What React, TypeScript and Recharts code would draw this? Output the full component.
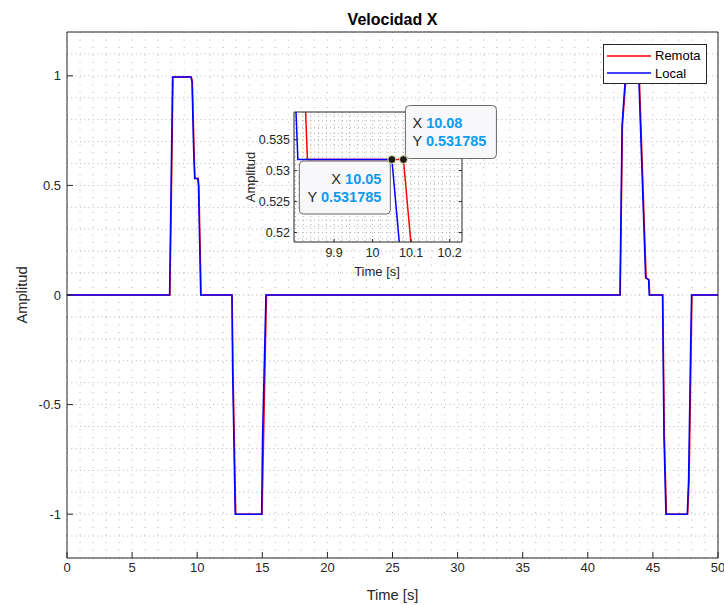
import React from 'react';
import { LineChart, Line, XAxis, YAxis, CartesianGrid, Legend, ReferenceDot } from 'recharts';

const FONT = '"Liberation Sans", Arial, Helvetica, sans-serif';
const AXIS = '#262626';
const GRID = '#b4b4b4';

// Local (blue) samples
const localT = [0, 7.88, 7.99, 8.11, 9.52, 9.6, 9.73, 9.806, 10.05, 10.1, 10.27, 12.67, 12.72, 12.92, 14.95, 15.02, 15.28,
  42.47, 42.63, 42.86, 42.95, 43.85, 43.93, 44.44, 44.67, 44.72, 45.74, 45.85, 46.0, 47.64, 47.74, 47.9, 47.97, 50];
const localV = [0, 0, 0.48, 0.995, 0.995, 0.974, 0.654, 0.531785, 0.531785, 0.497, 0, 0, -0.342, -1, -1, -0.647, 0,
  0, 0.773, 0.97, 0.995, 0.995, 0.97, 0.078, 0.07, 0, 0, -0.647, -1, -1, -0.845, -0.228, 0, 0];

// Remota (red) samples, slightly delayed
const remoteT = [0, 7.9, 8.02, 8.14, 9.55, 9.63, 9.76, 9.8, 9.831, 10.08, 10.13, 10.3, 12.68, 12.75, 12.96, 14.98, 15.1, 15.32,
  42.49, 42.66, 42.9, 42.98, 43.88, 43.97, 44.48, 44.7, 44.76, 45.76, 45.88, 46.04, 47.67, 47.78, 47.94, 48.0, 50];
const remoteV = [0, 0, 0.46, 0.995, 0.995, 0.974, 0.654, 0.58, 0.531785, 0.531785, 0.497, 0, 0, -0.342, -1, -1, -0.647, 0,
  0, 0.773, 0.97, 0.995, 0.995, 0.97, 0.078, 0.07, 0, 0, -0.647, -1, -1, -0.845, -0.228, 0, 0];

const seriesOrder = ['Remota', 'Local'];
const xTicks = [0, 5, 10, 15, 20, 25, 30, 35, 40, 45, 50];
const yTicks = [-1, -0.5, 0, 0.5, 1];
const insetXTicks = [9.9, 10, 10.1, 10.2];
const insetYTicks = [0.52, 0.525, 0.53, 0.535];
const tipLocalX = 10.05;
const tipRemoteX = 10.08;
const tipY = 0.531785;

const local = localT.map((t, i) => ({ t, v: localV[i] }));
const remote = remoteT.map((t, i) => ({ t, v: remoteV[i] }));

const gridX = Array.from({ length: 51 }, (_, i) => i);
const gridY = Array.from({ length: 25 }, (_, i) => +(-1.2 + i * 0.1).toFixed(1));
const gridXi = Array.from({ length: 22 }, (_, i) => +(9.8 + i * 0.02).toFixed(2));
const gridYi = Array.from({ length: 21 }, (_, i) => +(0.519 + i * 0.001).toFixed(3));

const blank = () => '';

function renderLegend(props: any) {
  const payload = [...(props.payload || [])].sort(
    (a: any, b: any) => seriesOrder.indexOf(a.value) - seriesOrder.indexOf(b.value)
  );
  return (
    <div style={{ width: 104, height: 40, boxSizing: 'border-box', border: `1px solid ${AXIS}`, background: '#fff', paddingTop: 2, fontFamily: FONT, fontSize: 13, color: '#000' }}>
      {payload.map((p: any) => (
        <div key={p.value} style={{ display: 'flex', alignItems: 'center', height: 17.5 }}>
          <svg width={51} height={4} style={{ display: 'block' }}>
            <line x1={3} x2={47} y1={2} y2={2} stroke={p.color} strokeWidth={1.5} />
          </svg>
          <span>{p.value}</span>
        </div>
      ))}
    </div>
  );
}

function DataTip(props: any) {
  const { cx, cy, xv, side } = props;
  const w = 91;
  const h = 53;
  const bx = side === 'left' ? cx - w - 1.5 : cx + 2;
  const by = side === 'left' ? cy + 1.5 : cy - h - 1;
  const anchor = side === 'left' ? 'end' : 'start';
  const tx = side === 'left' ? bx + w - 9 : bx + 7;
  return (
    <g>
      <rect x={bx} y={by} width={w} height={h} rx={4} fill="#f8f8fa" stroke="#6a6a6a" strokeWidth={1} />
      <text x={tx} y={by + 22.5} textAnchor={anchor} fontSize={14.5} fontFamily={FONT}>
        <tspan fill="#262626">X </tspan>
        <tspan fill="#0c9bef" fontWeight="bold">{xv.toFixed(2)}</tspan>
      </text>
      <text x={tx} y={by + 40.5} textAnchor={anchor} fontSize={14.5} fontFamily={FONT}>
        <tspan fill="#262626">Y </tspan>
        <tspan fill="#0c9bef" fontWeight="bold">{String(tipY)}</tspan>
      </text>
      <circle cx={cx} cy={cy} r={4} fill="#1a1a1a" stroke="#f2f0b0" strokeWidth={1} />
    </g>
  );
}

const tickStyle = { fill: AXIS, fontSize: 13, fontFamily: FONT };
const insetTick = { fill: AXIS, fontSize: 12.5, fontFamily: FONT };

export default function App() {
  return (
    <div style={{ position: 'absolute', left: 0, top: 0, width: 724, height: 605, background: '#fff', fontFamily: FONT }}>
      <LineChart width={724} height={605} margin={{ top: 31, right: 5, bottom: 17, left: 7 }}>
        <CartesianGrid horizontal={false} verticalValues={gridX} stroke={GRID} strokeDasharray="1 6.5" />
        <CartesianGrid vertical={false} horizontalValues={gridY} stroke={GRID} strokeDasharray="1 3.3" />
        <XAxis type="number" dataKey="t" domain={[0, 50]} ticks={xTicks} interval={0} height={30}
          tickSize={-6} tickMargin={11} stroke={AXIS} tick={tickStyle} allowDataOverflow />
        <XAxis xAxisId="top" orientation="top" type="number" domain={[0, 50]} ticks={xTicks} interval={0} height={1}
          tickSize={-6} tickFormatter={blank} stroke={AXIS} />
        <YAxis type="number" domain={[-1.2, 1.2]} ticks={yTicks} interval={0} width={60}
          tickSize={-6} tickMargin={12} stroke={AXIS} tick={tickStyle} allowDataOverflow />
        <YAxis yAxisId="right" orientation="right" type="number" domain={[-1.2, 1.2]} ticks={yTicks} interval={0} width={1}
          tickSize={-6} tickFormatter={blank} stroke={AXIS} />
        <Legend layout="horizontal" verticalAlign="middle" align="center" content={renderLegend}
          wrapperStyle={{ left: 603, top: 44, width: 104, height: 40 }} />
        <Line data={remote} dataKey="v" name="Remota" type="linear" stroke="#ff0000" strokeWidth={1.5} dot={false} activeDot={false} isAnimationActive={false} />
        <Line data={local} dataKey="v" name="Local" type="linear" stroke="#0000ff" strokeWidth={1.5} dot={false} activeDot={false} isAnimationActive={false} />
      </LineChart>

      <svg width={724} height={605} style={{ position: 'absolute', left: 0, top: 0, pointerEvents: 'none' }}>
        <text x={392.5} y={25} textAnchor="middle" fontWeight="bold" fontSize={16} fill="#000" fontFamily={FONT}>Velocidad X</text>
        <text x={392.5} y={600} textAnchor="middle" fontSize={14.7} fill={AXIS} fontFamily={FONT}>Time [s]</text>
        <text transform="translate(27,295) rotate(-90)" textAnchor="middle" fontSize={14.7} fill={AXIS} fontFamily={FONT}>Amplitud</text>
      </svg>

      <div style={{ position: 'absolute', left: 240, top: 95 }}>
        <LineChart width={270} height={195} margin={{ top: 16, right: 47, bottom: 18, left: 10 }}>
          <CartesianGrid horizontal={false} verticalValues={gridXi} stroke={GRID} strokeDasharray="1 3" fill="#fff" fillOpacity={1} />
          <CartesianGrid vertical={false} horizontalValues={gridYi} stroke={GRID} strokeDasharray="1 3" />
          <XAxis type="number" dataKey="t" domain={[9.796, 10.232]} ticks={insetXTicks} interval={0} height={30}
            tickSize={-3} tickMargin={9} stroke={AXIS} tick={insetTick} tickFormatter={(v: number) => String(v)} allowDataOverflow />
          <XAxis xAxisId="top" orientation="top" type="number" domain={[9.796, 10.232]} ticks={insetXTicks} interval={0} height={1}
            tickSize={-3} tickFormatter={blank} stroke={AXIS} allowDataOverflow />
          <YAxis type="number" domain={[0.51848, 0.53945]} ticks={insetYTicks} interval={0} width={44}
            tickSize={-3} tickMargin={7} stroke={AXIS} tick={insetTick} tickFormatter={(v: number) => String(v)} allowDataOverflow />
          <YAxis yAxisId="right" orientation="right" type="number" domain={[0.51848, 0.53945]} ticks={insetYTicks} interval={0} width={1}
            tickSize={-3} tickFormatter={blank} stroke={AXIS} allowDataOverflow />
          <Line data={remote} dataKey="v" type="linear" stroke="#ff0000" strokeWidth={1.5} dot={false} activeDot={false} isAnimationActive={false} />
          <Line data={local} dataKey="v" type="linear" stroke="#0000ff" strokeWidth={1.5} dot={false} activeDot={false} isAnimationActive={false} />
          <ReferenceDot x={tipLocalX} y={tipY} r={4} shape={(p: any) => <DataTip {...p} xv={tipLocalX} side="left" />} />
          <ReferenceDot x={tipRemoteX} y={tipY} r={4} shape={(p: any) => <DataTip {...p} xv={tipRemoteX} side="right" />} />
        </LineChart>
        <svg width={270} height={195} style={{ position: 'absolute', left: 0, top: 0, pointerEvents: 'none' }}>
          <text transform="translate(15,82) rotate(-90)" textAnchor="middle" fontSize={13} fill={AXIS} fontFamily={FONT}>Amplitud</text>
          <text x={137} y={181} textAnchor="middle" fontSize={13} fill={AXIS} fontFamily={FONT}>Time [s]</text>
        </svg>
      </div>
    </div>
  );
}
